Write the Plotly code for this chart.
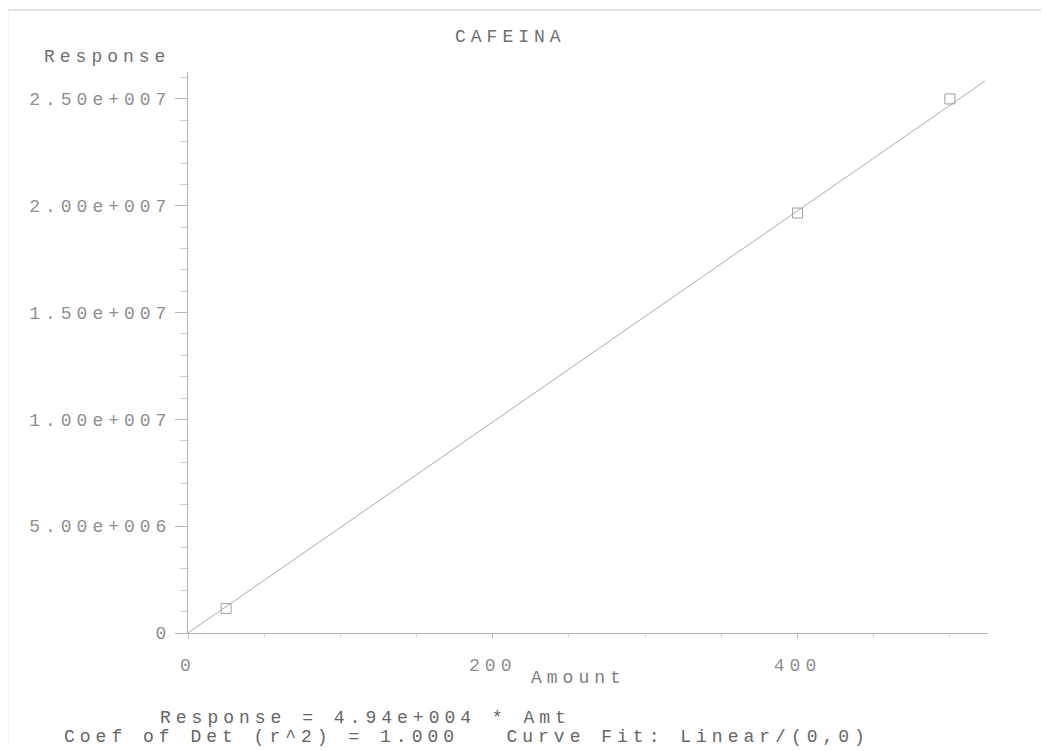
import plotly.graph_objects as go

# ---- data ----
amount = [25, 400, 500]
response = [1.15e6, 1.966e7, 2.50e7]
slope = 4.94e4
fit_x_end = 523

x_tick_vals = [0, 200, 400]
x_tick_text = ["0", "200", "400"]
y_tick_vals = [0, 5e6, 1e7, 1.5e7, 2e7, 2.5e7]
y_tick_text = ["0", "5.00e+006", "1.00e+007", "1.50e+007", "2.00e+007", "2.50e+007"]

title_text = "CAFEINA"
y_title = "Response"
x_title = "Amount"
eq_line1 = "Response = 4.94e+004 * Amt"
eq_line2 = "Coef of Det (r^2) = 1.000   Curve Fit: Linear/(0,0)"

# ---- layout geometry (pixels, in reference-image coordinates) ----
OFF = 8  # page body margin
W, H = 1049 - OFF, 751 - OFF
L, R, T, B = 188, 988, 72, 633
FONT = "Liberation Mono, Courier New, monospace"
LS = "letter-spacing:5px"


def sp(t, ls=LS):
    return f'<span style="{ls}">{t}</span>'


def px(xp):
    return (xp - L) / (R - L)


def py(yp):
    return (B - yp) / (B - T)


fig = go.Figure()

fig.add_trace(go.Scatter(
    x=[0, fit_x_end], y=[0, slope * fit_x_end], mode="lines",
    line=dict(color="#acacac", width=1), showlegend=False, hoverinfo="skip"))

fig.add_trace(go.Scatter(
    x=amount, y=response, mode="markers",
    marker=dict(symbol="square-open", size=10, color="#a0a0a0", line=dict(width=1)),
    showlegend=False))

fig.update_xaxes(
    range=[0, 525], showgrid=False, zeroline=False,
    showline=True, linecolor="#b5b5b5", linewidth=1,
    tickmode="array", tickvals=x_tick_vals, ticktext=[sp(t) for t in x_tick_text],
    ticks="outside", ticklen=5, tickcolor="#c0c0c0",
    ticklabelstandoff=10,
    tickfont=dict(family=FONT, size=18, color="#8f8f8f"),
    minor=dict(tickvals=[50, 100, 150, 250, 300, 350, 450, 500], ticks="outside",
               ticklen=3, tickcolor="#cfcfcf"),
)
fig.update_yaxes(
    range=[0, 2.626e7], showgrid=False, zeroline=False,
    showline=True, linecolor="#b5b5b5", linewidth=1,
    tickmode="array", tickvals=y_tick_vals, ticktext=[sp(t) for t in y_tick_text],
    ticks="outside", ticklen=12, tickcolor="#b5b5b5",
    ticklabelstandoff=0,
    tickfont=dict(family=FONT, size=18, color="#8f8f8f"),
    minor=dict(dtick=1e6, tick0=0, ticks="outside", ticklen=7, tickcolor="#cfcfcf"),
)

annotations = [
    dict(text=sp(title_text), x=px(510), y=py(37), xanchor="center", yanchor="middle",
         font=dict(family=FONT, size=18, color="#707070")),
    dict(text=sp(y_title), x=px(42), y=py(57), xanchor="left", yanchor="middle",
         font=dict(family=FONT, size=18, color="#707070")),
    dict(text=sp(x_title), x=px(529), y=py(678), xanchor="left", yanchor="middle",
         font=dict(family=FONT, size=18, color="#808080")),
    dict(text=sp(eq_line1), x=px(158), y=py(718), xanchor="left", yanchor="middle",
         font=dict(family=FONT, size=18, color="#666666")),
    dict(text=sp(eq_line2), x=px(62), y=py(737), xanchor="left", yanchor="middle",
         font=dict(family=FONT, size=18, color="#666666")),
]
for a in annotations:
    a.update(xref="paper", yref="paper", showarrow=False)

shapes = [
    dict(type="line", xref="paper", yref="paper", x0=px(8), x1=px(1049), y0=py(10), y1=py(10),
         line=dict(color="#c4c4c4", width=1)),
    dict(type="line", xref="paper", yref="paper", x0=px(8), x1=px(8), y0=py(10), y1=py(745),
         line=dict(color="#ececec", width=1)),
]

fig.update_layout(
    width=W, height=H,
    margin=dict(l=L - OFF, r=W - (R - OFF), t=T - OFF, b=H - (B - OFF)),
    paper_bgcolor="white", plot_bgcolor="white",
    annotations=annotations, shapes=shapes,
    showlegend=False,
)

fig.write_html("out.html")
